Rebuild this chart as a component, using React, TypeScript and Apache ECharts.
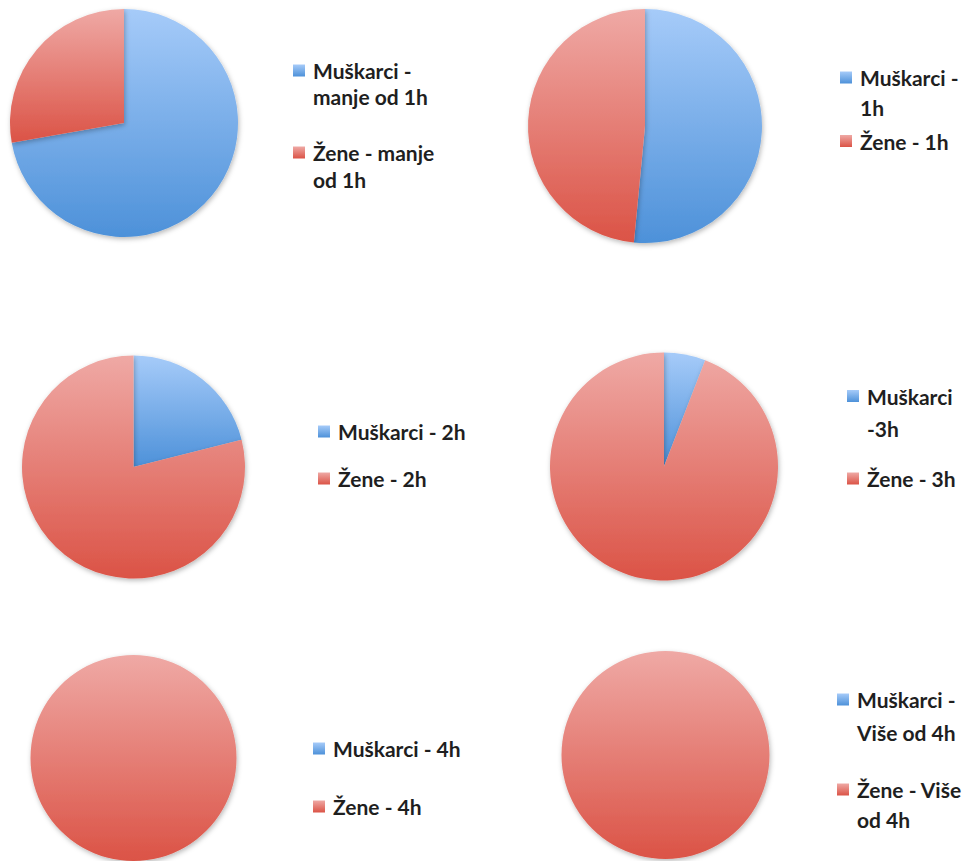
import React, { useEffect, useRef } from "react";
import * as echarts from "echarts";

// ---- data ----
const menLabels = [
  "Muškarci -\nmanje od 1h",
  "Muškarci -\n1h",
  "Muškarci - 2h",
  "Muškarci\n-3h",
  "Muškarci - 4h",
  "Muškarci -\nViše od 4h",
];
const womenLabels = [
  "Žene - manje\nod 1h",
  "Žene - 1h",
  "Žene - 2h",
  "Žene - 3h",
  "Žene - 4h",
  "Žene - Više\nod 4h",
];
const menValues = [13, 17, 4, 1, 0, 0];
const womenValues = [5, 16, 15, 16, 12, 9];

// ---- layout (positions / sizes only) ----
const pieLayout = [
  { cx: 124, cy: 123, r: 114 },
  { cx: 645, cy: 126, r: 117 },
  { cx: 133.5, cy: 467, r: 111.5 },
  { cx: 664, cy: 466.5, r: 114 },
  { cx: 133.5, cy: 758, r: 103 },
  { cx: 665.5, cy: 755, r: 104 },
];
// per pie: icon left x, first-line centre y of each item, line heights
const legendLayout = [
  { left: 293, y: [70.5, 152.5], lh: [26, 27] },
  { left: 840, y: [77.5, 141], lh: [30, 29] },
  { left: 318, y: [431.5, 478.5], lh: [26, 26] },
  { left: 847, y: [396, 478.5], lh: [32, 32] },
  { left: 313, y: [748.5, 806.5], lh: [26, 26] },
  { left: 837, y: [699.5, 789.5], lh: [33, 30] },
];

const blueGrad = () =>
  new echarts.graphic.LinearGradient(0, 0, 0, 1, [
    { offset: 0, color: "#A6CBF9" },
    { offset: 1, color: "#4D91D9" },
  ]);
const redGrad = () =>
  new echarts.graphic.LinearGradient(0, 0, 0, 1, [
    { offset: 0, color: "#EFA9A5" },
    { offset: 1, color: "#DB5346" },
  ]);

const lineCount = (s: string) => s.split("\n").length;

export default function App() {
  const ref = useRef<HTMLDivElement>(null);
  useEffect(() => {
    if (!ref.current) return;
    const chart = echarts.init(ref.current, undefined, { renderer: "svg" });

    const series = pieLayout.map((p, i) => ({
      type: "pie",
      center: [p.cx, p.cy],
      radius: p.r,
      startAngle: 90,
      clockwise: true,
      label: { show: false },
      labelLine: { show: false },
      emphasis: { disabled: true },
      silent: true,
      itemStyle: {
        borderWidth: 0,
        shadowBlur: 5,
        shadowOffsetX: 1,
        shadowOffsetY: 2,
        shadowColor: "rgba(0,0,0,0.28)",
      },
      data: [
        { name: menLabels[i], value: menValues[i], itemStyle: { color: blueGrad() } },
        { name: womenLabels[i], value: womenValues[i], itemStyle: { color: redGrad() } },
      ],
    }));

    const legend: any[] = [];
    legendLayout.forEach((l, i) => {
      [menLabels[i], womenLabels[i]].forEach((name, k) => {
        const n = lineCount(name);
        const lh = l.lh[k];
        const total = 2 * n - 1; // leading blank lines keep the icon on the first line
        legend.push({
          orient: "vertical",
          left: l.left,
          top: l.y[k] - (total * lh) / 2,
          padding: 0,
          itemWidth: 12,
          itemHeight: 12,
          icon: "rect",
          selectedMode: false,
          itemStyle: { borderWidth: 0, shadowBlur: 0, shadowOffsetX: 0, shadowOffsetY: 0 },
          formatter: (nm: string) => "\n".repeat(n - 1) + nm,
          textStyle: {
            fontFamily: "Lato",
            fontSize: 21,
            fontWeight: "bold",
            color: "#1f1f1f",
            lineHeight: lh,
            padding: [0, 0, 0, 3],
          },
          data: [name],
        });
      });
    });

    chart.setOption({
      animation: false,
      backgroundColor: "#ffffff",
      legend,
      series,
    });
    return () => chart.dispose();
  }, []);
  return (
    <div
      ref={ref}
      style={{ position: "absolute", left: 0, top: 0, width: 972, height: 861 }}
    />
  );
}
